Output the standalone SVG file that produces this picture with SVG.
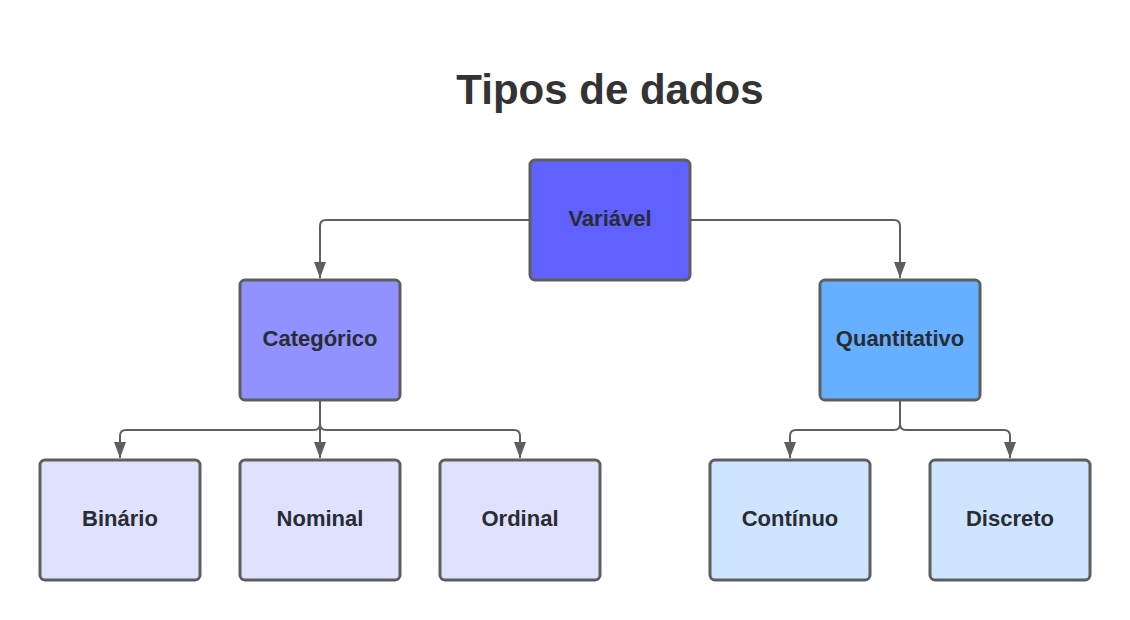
<svg xmlns="http://www.w3.org/2000/svg" width="1130" height="620" viewBox="0 0 1130 620">
<defs>
<style>
.n{stroke:#5e5e5e;stroke-width:3}
.t{font-family:"Liberation Sans",Arial,sans-serif;font-weight:bold;font-size:22px;fill:#282c33;text-anchor:middle}
.c{fill:none;stroke:#5e5e5e;stroke-width:2}
</style>
<marker id="a" viewBox="0 0 16 12" refX="16" refY="6" markerWidth="16" markerHeight="12" markerUnits="userSpaceOnUse" orient="auto"><path d="M0,0L16,6L0,12z" fill="#5e5e5e"/></marker>
</defs>
<rect width="1130" height="620" fill="#fff"/>
<text x="610" y="104" font-family="'Liberation Sans',Arial,sans-serif" font-weight="bold" font-size="42" fill="#333" text-anchor="middle">Tipos de dados</text>
<g id="connectors">
<path class="c" d="M530,220H326Q320,220 320,226V278" marker-end="url(#a)"/>
<path class="c" d="M690,220H894Q900,220 900,226V278" marker-end="url(#a)"/>
<path class="c" d="M320,400V424Q320,430 314,430H126Q120,430 120,436V458" marker-end="url(#a)"/>
<path class="c" d="M320,400V458" marker-end="url(#a)"/>
<path class="c" d="M320,400V424Q320,430 326,430H514Q520,430 520,436V458" marker-end="url(#a)"/>
<path class="c" d="M900,400V424Q900,430 894,430H796Q790,430 790,436V458" marker-end="url(#a)"/>
<path class="c" d="M900,400V424Q900,430 906,430H1004Q1010,430 1010,436V458" marker-end="url(#a)"/>
</g>
<g id="variavel"><rect class="n" x="530" y="160" width="160" height="120" rx="5" fill="#6161ff"/><text class="t" x="610" y="226">Variável</text></g>
<g id="categorico"><rect class="n" x="240" y="280" width="160" height="120" rx="5" fill="#9191ff"/><text class="t" x="320" y="346">Categórico</text></g>
<g id="quantitativo"><rect class="n" x="820" y="280" width="160" height="120" rx="5" fill="#66b0ff"/><text class="t" x="900" y="346">Quantitativo</text></g>
<g id="binario"><rect class="n" x="40" y="460" width="160" height="120" rx="5" fill="#e0e0ff"/><text class="t" x="120" y="526">Binário</text></g>
<g id="nominal"><rect class="n" x="240" y="460" width="160" height="120" rx="5" fill="#e0e0ff"/><text class="t" x="320" y="526">Nominal</text></g>
<g id="ordinal"><rect class="n" x="440" y="460" width="160" height="120" rx="5" fill="#e0e0ff"/><text class="t" x="520" y="526">Ordinal</text></g>
<g id="continuo"><rect class="n" x="710" y="460" width="160" height="120" rx="5" fill="#cfe4ff"/><text class="t" x="790" y="526">Contínuo</text></g>
<g id="discreto"><rect class="n" x="930" y="460" width="160" height="120" rx="5" fill="#cfe4ff"/><text class="t" x="1010" y="526">Discreto</text></g>
</svg>
